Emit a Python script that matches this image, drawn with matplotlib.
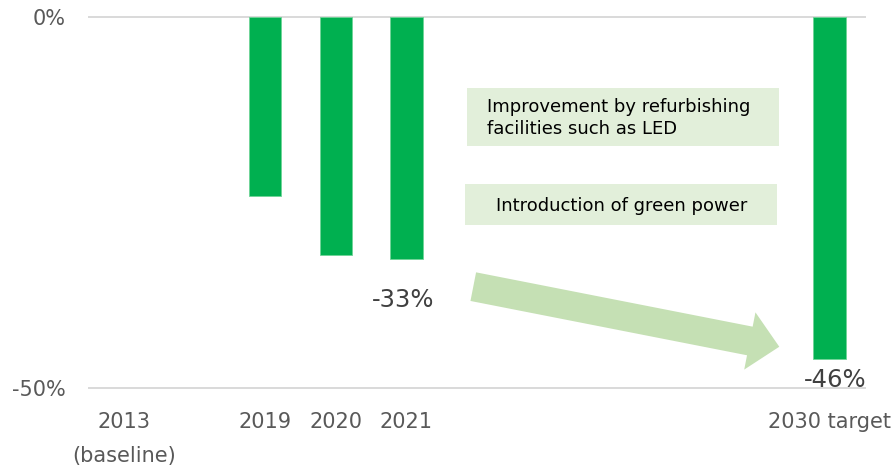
import numpy as np
import matplotlib
matplotlib.use("Agg")
import matplotlib.pyplot as plt
from matplotlib.patches import Rectangle

# category axis with blank slots between the years
categories = ["2013\n(baseline)", "", "2019", "2020", "2021", "", "", "", "", "", "2030 target"]
values = [0, np.nan, -24.1, -32.1, -32.6, np.nan, np.nan, np.nan, np.nan, np.nan, -46]
ytick_vals = [0, -50]
ytick_labels = ["0%", "-50%"]
label_2021 = "-33%"
label_2030 = "-46%"
note_1 = "Improvement by refurbishing\nfacilities such as LED"
note_2 = "Introduction of green power"

BAR = "#00B050"
GRID = "#D9D9D9"
TICK = "#595959"

fig = plt.figure(figsize=(8.93, 4.67), dpi=100)
ax = fig.add_axes([89 / 893, 1 - 388.3 / 467, 775.6 / 893, 371 / 467])

x = np.arange(len(categories))
vals = np.array(values, dtype=float)
has_bar = ~np.isnan(vals) & (vals != 0)
ax.bar(x[has_bar], vals[has_bar], width=0.46, color=BAR, edgecolor="#6fd497", linewidth=0.6, zorder=3)

ax.set_xlim(-0.5, len(categories) - 0.5)
ax.set_ylim(-50, 0)
for s in ax.spines.values():
    s.set_visible(False)
for yv in ytick_vals:
    ax.axhline(yv, color=GRID, lw=1.4, zorder=1, clip_on=False)

ax.set_yticks(ytick_vals)
ax.set_yticklabels(ytick_labels, fontsize=15, color=TICK)
ax.set_xticks(x)
ax.set_xticklabels(categories, fontsize=15, color=TICK, linespacing=1.9, va="top")
ax.tick_params(axis="both", length=0)
ax.tick_params(axis="y", pad=16.5)
ax.tick_params(axis="x", pad=17)

# data labels
ax.annotate(label_2021, (4, vals[4]), xytext=(-3, -41), textcoords="offset pixels",
            ha="center", va="center", fontsize=17.5, color="#404040")
ax.annotate(label_2030, (10, vals[10]), xytext=(6, -21.5), textcoords="offset pixels",
            ha="center", va="center", fontsize=17.5, color="#404040")

# note boxes
ax.add_patch(Rectangle((0.488, 0.654), 0.4014, 0.1545, transform=ax.transAxes,
                       facecolor="#E2EFDA", edgecolor="none", clip_on=False, zorder=2))
ax.text(0.5128, 0.729, note_1, transform=ax.transAxes, ha="left", va="center",
        fontsize=13, color="black", linespacing=1.32, zorder=4)
ax.add_patch(Rectangle((0.4848, 0.441), 0.4023, 0.1097, transform=ax.transAxes,
                       facecolor="#E2EFDA", edgecolor="none", clip_on=False, zorder=2))
ax.text(0.6866, 0.492, note_2, transform=ax.transAxes, ha="center", va="center",
        fontsize=13, color="black", zorder=4)

# big arrow from 2021 toward the 2030 target
ax.annotate("", xy=(9.29, -44.4), xytext=(4.95, -36.3),
            arrowprops=dict(arrowstyle="simple,head_length=1.08,head_width=2.1,tail_width=1.05",
                            mutation_scale=20, facecolor="#C5E0B4", edgecolor="none",
                            shrinkA=0, shrinkB=0))

fig.savefig("out.png", dpi=100)
